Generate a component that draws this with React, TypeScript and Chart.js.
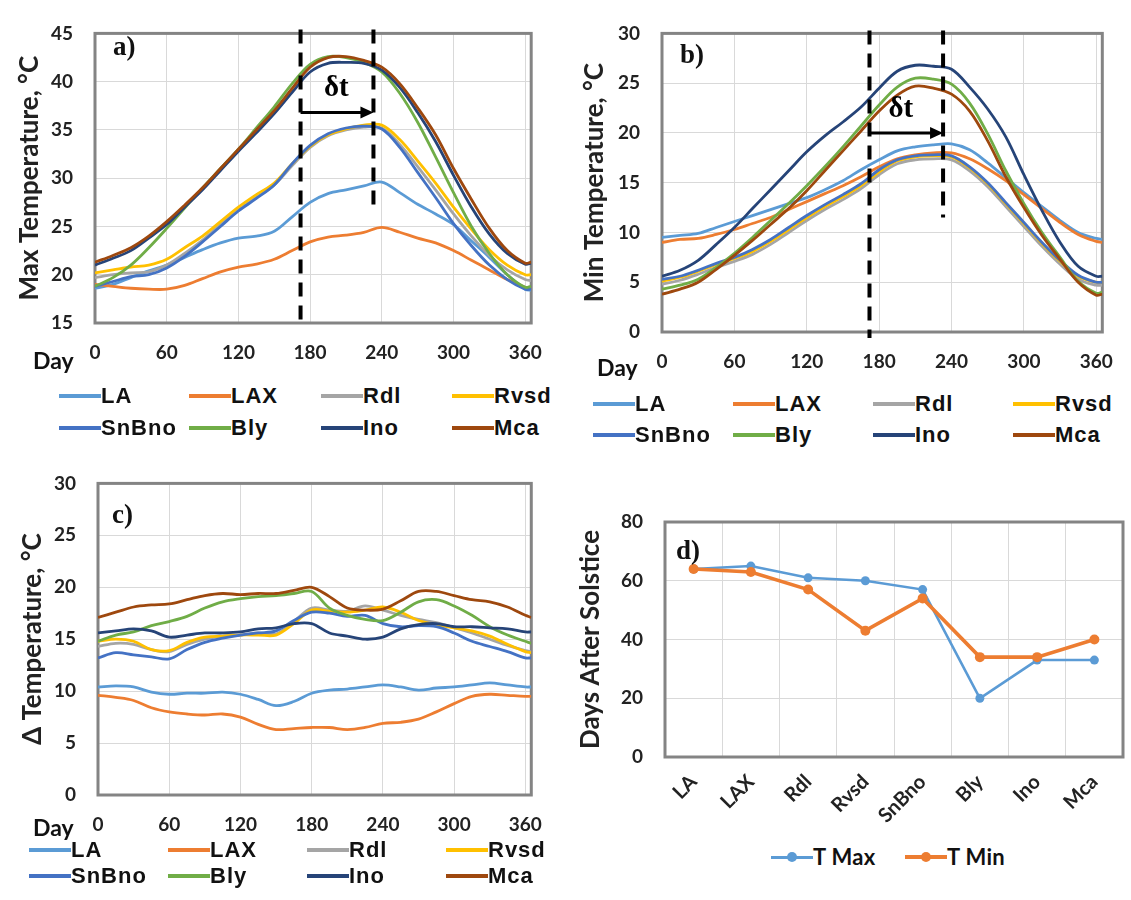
import React, { useEffect, useRef } from "react";
import { Chart, registerables } from "chart.js";
Chart.register(...registerables);

// ---------- data ----------
const DAYS = [0, 15, 30, 45, 60, 75, 90, 105, 120, 135, 150, 165, 180, 195, 210, 225, 240, 255, 270, 285, 300, 315, 330, 345, 360, 365];
const DAY_TICKS = [0, 60, 120, 180, 240, 300, 360];
const SITES = ["LA", "LAX", "Rdl", "Rvsd", "SnBno", "Bly", "Ino", "Mca"];
const SITE_COLORS = ["#5B9BD5", "#ED7D31", "#A5A5A5", "#FFC000", "#4472C4", "#70AD47", "#264478", "#9E480E"];

// a) Max temperature
const maxLA = [18.6, 19.0, 19.7, 20.4, 21.0, 21.8, 22.6, 23.3, 23.8, 24.0, 24.5, 26.0, 27.5, 28.4, 28.8, 29.2, 29.6, 28.5, 27.3, 26.3, 25.2, 23.5, 21.8, 20.0, 18.5, 18.4];
const maxLAX = [19.0, 18.8, 18.6, 18.5, 18.5, 18.9, 19.6, 20.3, 20.8, 21.1, 21.6, 22.5, 23.4, 23.9, 24.1, 24.4, 24.9, 24.4, 23.8, 23.3, 22.5, 21.5, 20.5, 19.5, 18.7, 18.6];
const maxRdl = [19.7, 20.0, 20.2, 20.3, 21.0, 22.2, 23.6, 25.2, 26.7, 28.0, 29.3, 31.3, 33.2, 34.4, 35.0, 35.3, 35.2, 33.5, 31.2, 28.8, 26.3, 24.0, 22.0, 20.5, 19.5, 19.4];
const maxRvsd = [20.2, 20.5, 20.8, 21.0, 21.6, 22.8, 24.0, 25.5, 27.0, 28.3, 29.5, 31.5, 33.3, 34.5, 35.1, 35.5, 35.5, 34.0, 31.8, 29.5, 27.0, 24.7, 22.6, 21.0, 20.0, 20.0];
const maxSnBno = [18.8, 19.3, 19.8, 20.0, 20.7, 21.9, 23.4, 25.0, 26.6, 27.9, 29.3, 31.5, 33.4, 34.6, 35.2, 35.4, 35.1, 33.2, 30.6, 28.0, 25.3, 23.0, 21.0, 19.5, 18.5, 18.5];
const maxBly = [18.8, 19.7, 21.0, 22.8, 24.8, 26.9, 29.0, 31.0, 33.0, 35.2, 37.4, 39.8, 41.8, 42.6, 42.5, 42.0, 41.0, 38.8, 35.8, 32.2, 28.5, 25.0, 22.2, 20.0, 18.7, 18.8];
const maxIno = [21.0, 21.7, 22.5, 23.8, 25.2, 27.0, 28.8, 30.8, 32.8, 34.7, 36.7, 38.9, 41.0, 41.9, 42.0, 41.9, 41.2, 39.4, 36.8, 33.8, 30.3, 27.0, 24.2, 22.2, 21.1, 21.2];
const maxMca = [21.3, 22.0, 22.8, 24.0, 25.5, 27.2, 29.0, 31.0, 33.0, 35.0, 37.0, 39.3, 41.5, 42.5, 42.6, 42.2, 41.5, 39.8, 37.3, 34.5, 31.0, 27.8, 24.8, 22.5, 21.2, 21.3];

// b) Min temperature
const minLA = [9.5, 9.7, 9.9, 10.5, 11.1, 11.7, 12.3, 12.9, 13.5, 14.3, 15.2, 16.3, 17.3, 18.2, 18.6, 18.8, 18.9, 18.3, 17.0, 15.5, 14.0, 12.6, 11.2, 10.0, 9.4, 9.3];
const minLAX = [9.0, 9.3, 9.4, 9.8, 10.3, 10.9, 11.5, 12.3, 13.1, 13.9, 14.7, 15.6, 16.6, 17.4, 17.8, 18.0, 18.0, 17.4, 16.4, 15.2, 13.8, 12.4, 11.0, 9.8, 9.1, 9.0];
const minRdl = [4.8, 5.2, 5.8, 6.5, 7.1, 7.8, 8.8, 10.0, 11.2, 12.3, 13.3, 14.4, 15.8, 16.9, 17.3, 17.4, 17.3, 16.2, 14.6, 12.6, 10.6, 8.6, 6.8, 5.3, 4.7, 4.7];
const minRvsd = [5.1, 5.5, 6.1, 6.8, 7.4, 8.1, 9.1, 10.3, 11.5, 12.6, 13.6, 14.7, 16.1, 17.2, 17.6, 17.7, 17.6, 16.5, 14.9, 12.9, 10.9, 8.9, 7.1, 5.6, 5.0, 5.0];
const minSnBno = [5.3, 5.6, 6.2, 6.9, 7.5, 8.3, 9.3, 10.5, 11.7, 12.8, 13.8, 14.9, 16.3, 17.3, 17.7, 17.8, 17.7, 16.6, 15.0, 13.0, 11.0, 9.0, 7.2, 5.7, 5.0, 5.0];
const minBly = [4.3, 4.7, 5.3, 6.5, 7.9, 9.5, 11.2, 12.9, 14.7, 16.6, 18.6, 20.7, 22.8, 24.6, 25.5, 25.4, 24.9, 23.0, 19.9, 16.2, 12.9, 10.0, 7.5, 5.1, 3.9, 4.0];
const minIno = [5.6, 6.2, 7.2, 8.8, 10.5, 12.4, 14.3, 16.2, 18.1, 19.7, 21.1, 22.6, 24.5, 26.2, 26.8, 26.7, 26.4, 24.6, 22.4, 19.6, 15.8, 12.2, 9.0, 6.6, 5.6, 5.6];
const minMca = [3.8, 4.3, 5.0, 6.3, 7.7, 9.2, 10.8, 12.4, 14.2, 16.2, 18.2, 20.2, 22.2, 23.8, 24.7, 24.5, 23.9, 22.2, 19.2, 15.6, 12.5, 9.7, 7.3, 5.0, 3.7, 3.8];

// c) Delta temperature
const dLA = [10.4, 10.5, 10.4, 9.9, 9.7, 9.8, 9.8, 9.9, 9.7, 9.2, 8.6, 9.0, 9.8, 10.1, 10.2, 10.4, 10.6, 10.4, 10.1, 10.3, 10.4, 10.6, 10.8, 10.6, 10.4, 10.4];
const dLAX = [9.6, 9.4, 9.1, 8.4, 8.0, 7.8, 7.7, 7.8, 7.5, 6.8, 6.3, 6.4, 6.5, 6.5, 6.3, 6.5, 6.9, 7.0, 7.3, 8.0, 8.8, 9.5, 9.7, 9.6, 9.5, 9.5];
const dRdl = [14.3, 14.6, 14.5, 14.0, 13.8, 14.5, 15.0, 15.3, 15.4, 15.6, 15.5, 16.7, 18.0, 17.8, 17.7, 18.2, 17.8, 17.3, 16.9, 16.6, 16.1, 15.6, 15.0, 14.4, 13.9, 13.8];
const dRvsd = [14.8, 15.0, 14.8, 14.0, 13.9, 14.7, 15.2, 15.3, 15.4, 15.4, 15.4, 16.5, 17.8, 17.7, 17.6, 17.8, 18.1, 17.6, 16.8, 16.4, 16.1, 15.8, 15.3, 14.5, 13.8, 13.7];
const dSnBno = [13.2, 13.7, 13.5, 13.3, 13.1, 14.0, 14.7, 15.1, 15.4, 15.6, 15.8, 16.8, 17.6, 17.5, 17.2, 17.3, 16.5, 16.2, 16.3, 16.2, 15.6, 14.8, 14.3, 13.8, 13.2, 13.2];
const dBly = [14.8, 15.4, 15.7, 16.3, 16.7, 17.2, 18.0, 18.6, 18.9, 19.1, 19.2, 19.4, 19.6, 18.0, 17.3, 16.9, 16.8, 17.6, 18.6, 18.8, 18.2, 17.3, 16.2, 15.4, 14.8, 14.6];
const dIno = [15.6, 15.8, 16.0, 15.8, 15.2, 15.4, 15.6, 15.6, 15.7, 16.0, 16.1, 16.5, 16.5, 15.6, 15.3, 15.0, 15.2, 16.0, 16.4, 16.5, 16.2, 16.2, 16.1, 16.0, 15.7, 15.7];
const dMca = [17.1, 17.6, 18.1, 18.3, 18.4, 18.8, 19.2, 19.4, 19.3, 19.4, 19.4, 19.7, 20.0, 19.1, 18.0, 17.8, 17.9, 18.7, 19.6, 19.6, 19.2, 18.8, 18.6, 18.1, 17.3, 17.1];

// d) Days after solstice
const D_CATEGORIES = ["LA", "LAX", "Rdl", "Rvsd", "SnBno", "Bly", "Ino", "Mca"];
const D_TMAX = [64, 65, 61, 60, 57, 20, 33, 33];
const D_TMIN = [64, 63, 57, 43, 54, 34, 34, 40];
const D_SERIES = ["T Max", "T Min"];
const D_COLORS = ["#5B9BD5", "#ED7D31"];

// ---------- styling ----------
const TEXT = "#222222";
const GRID = "#d9d9d9";
const FRAME = "#848484";
const TICK_FONT = { family: "Lato", weight: "bold", size: 19 };
const TITLE_SIZE = 26;
const TITLE_FONT = { family: "Lato", weight: "bold", size: TITLE_SIZE };

const framePlugin = {
  id: "frame",
  beforeDatasetsDraw(chart: any) {
    const { ctx, chartArea } = chart;
    ctx.save();
    ctx.strokeStyle = FRAME;
    ctx.lineWidth = 3;
    ctx.strokeRect(chartArea.left, chartArea.top, chartArea.right - chartArea.left, chartArea.bottom - chartArea.top);
    ctx.restore();
  },
};

type Annot = {
  lines: { day: number; from: number; to: number }[];
  arrow: { from: number; to: number; y: number };
  label: { day: number; y: number };
};

function makeAnnot(a: Annot) {
  return {
    id: "annot",
    afterDatasetsDraw(chart: any) {
      const { ctx } = chart;
      const xs = chart.scales.x;
      const ys = chart.scales.y;
      ctx.save();
      ctx.strokeStyle = "#000";
      ctx.fillStyle = "#000";
      ctx.lineWidth = 4;
      ctx.setLineDash([14, 9]);
      for (const l of a.lines) {
        const x = xs.getPixelForValue(l.day);
        ctx.beginPath();
        ctx.moveTo(x, ys.getPixelForValue(l.from));
        ctx.lineTo(x, ys.getPixelForValue(l.to));
        ctx.stroke();
      }
      ctx.setLineDash([]);
      const x1 = xs.getPixelForValue(a.arrow.from);
      const x2 = xs.getPixelForValue(a.arrow.to);
      const y = ys.getPixelForValue(a.arrow.y);
      ctx.lineWidth = 3;
      ctx.beginPath();
      ctx.moveTo(x1, y);
      ctx.lineTo(x2 - 6, y);
      ctx.stroke();
      ctx.beginPath();
      ctx.moveTo(x2, y);
      ctx.lineTo(x2 - 13, y - 6);
      ctx.lineTo(x2 - 13, y + 6);
      ctx.closePath();
      ctx.fill();
      ctx.font = 'bold 29px "Liberation Serif", "Times New Roman", serif';
      ctx.textAlign = "center";
      ctx.textBaseline = "middle";
      ctx.fillText("\u03b4t", xs.getPixelForValue(a.label.day), ys.getPixelForValue(a.label.y));
      ctx.restore();
    },
  };
}

type Geo = { left: number; top: number; width: number; height: number; aL: number; aT: number; aR: number; aB: number; titleX: number };

function dayConfig(series: number[][], yMin: number, yMax: number, yTitle: string, g: Geo, annot?: Annot) {
  const plugins: any[] = [framePlugin];
  if (annot) plugins.push(makeAnnot(annot));
  return {
    type: "line",
    data: {
      datasets: SITES.map((name, i) => ({
        label: name,
        data: DAYS.map((d, k) => ({ x: d, y: series[i][k] })),
        borderColor: SITE_COLORS[i],
        backgroundColor: SITE_COLORS[i],
        borderWidth: 2.8,
        pointRadius: 0,
        tension: 0.35,
        fill: false,
        order: 8 - i,
      })),
    },
    options: {
      responsive: false,
      animation: false,
      devicePixelRatio: 1,
      layout: { padding: { left: 0, top: g.aT, right: g.width - g.aR, bottom: 0 } },
      plugins: { legend: { display: false }, tooltip: { enabled: false } },
      scales: {
        x: {
          type: "linear",
          min: 0,
          max: 365,
          afterBuildTicks: (s: any) => {
            s.ticks = DAY_TICKS.map((v) => ({ value: v }));
          },
          afterFit: (s: any) => {
            s.height = g.height - g.aB;
          },
          ticks: { font: TICK_FONT, color: TEXT, padding: 18, maxRotation: 0, autoSkip: false },
          grid: { color: GRID, drawTicks: false, lineWidth: 1 },
          border: { display: false },
        },
        y: {
          min: yMin,
          max: yMax,
          afterFit: (s: any) => {
            s.width = g.aL;
          },
          ticks: { stepSize: 5, font: TICK_FONT, color: TEXT, padding: 22 },
          grid: { color: GRID, drawTicks: false, lineWidth: 1 },
          border: { display: false },
          title: { display: true, text: yTitle, font: TITLE_FONT, color: TEXT, padding: { top: g.titleX - TITLE_SIZE * 0.6, bottom: 0 } },
        },
      },
    },
    plugins,
  };
}

function solsticeConfig(g: Geo) {
  const vals = [D_TMAX, D_TMIN];
  return {
    type: "line",
    data: {
      labels: D_CATEGORIES,
      datasets: D_SERIES.map((name, i) => ({
        label: name,
        data: vals[i],
        borderColor: D_COLORS[i],
        backgroundColor: D_COLORS[i],
        borderWidth: i === 0 ? 2.6 : 3.6,
        pointRadius: i === 0 ? 4.5 : 5,
        pointBorderWidth: 0,
        tension: 0,
        fill: false,
        order: 2 - i,
      })),
    },
    options: {
      responsive: false,
      animation: false,
      devicePixelRatio: 1,
      layout: { padding: { left: 0, top: g.aT, right: g.width - g.aR, bottom: 0 } },
      plugins: { legend: { display: false }, tooltip: { enabled: false } },
      scales: {
        x: {
          type: "category",
          offset: true,
          afterFit: (s: any) => {
            s.height = g.height - g.aB;
          },
          ticks: { font: { family: "Lato", weight: "bold", size: 20 }, color: TEXT, padding: 13, minRotation: 45, maxRotation: 45, autoSkip: false },
          grid: { color: GRID, drawTicks: false, offset: true },
          border: { display: false },
        },
        y: {
          min: 0,
          max: 80,
          afterFit: (s: any) => {
            s.width = g.aL;
          },
          ticks: { stepSize: 20, font: TICK_FONT, color: TEXT, padding: 22 },
          grid: { color: GRID, drawTicks: false },
          border: { display: false },
          title: { display: true, text: "Days After Solstice", font: TITLE_FONT, color: TEXT, padding: { top: g.titleX - TITLE_SIZE * 0.6, bottom: 0 } },
        },
      },
    },
    plugins: [framePlugin],
  };
}

function ChartBox({ geo, make }: { geo: Geo; make: () => any }) {
  const ref = useRef<HTMLCanvasElement | null>(null);
  useEffect(() => {
    const chart = new Chart(ref.current as HTMLCanvasElement, make());
    return () => chart.destroy();
  }, []);
  return (
    <canvas
      ref={ref}
      width={geo.width}
      height={geo.height}
      style={{ position: "absolute", left: geo.left, top: geo.top, width: geo.width, height: geo.height }}
    />
  );
}

function Legend({ cols, rows, names, colors }: { cols: number[]; rows: number[]; names: string[]; colors: string[] }) {
  return (
    <>
      {names.map((n, i) => {
        const x = cols[i % 4];
        const y = rows[Math.floor(i / 4)];
        return (
          <div key={n} style={{ position: "absolute", left: x, top: y - 13, height: 26, display: "flex", alignItems: "center" }}>
            <div style={{ width: 42, height: 4, background: colors[i] }} />
            <span style={{ font: 'bold 22px "Liberation Sans", Arial, sans-serif', letterSpacing: "1px", color: "#111", lineHeight: "26px" }}>{n}</span>
          </div>
        );
      })}
    </>
  );
}

function Txt({ x, y, text, font }: { x: number; y: number; text: string; font: string }) {
  return (
    <div style={{ position: "absolute", left: x, top: y - 16, height: 32, lineHeight: "32px", font, color: "#111", whiteSpace: "nowrap" }}>
      {text}
    </div>
  );
}

const GEO_A: Geo = { left: 0, top: 0, width: 560, height: 380, aL: 95, aT: 20, aR: 542, aB: 323, titleX: 30 };
const GEO_B: Geo = { left: 560, top: 0, width: 571, height: 380, aL: 102, aT: 25, aR: 557, aB: 332, titleX: 35 };
const GEO_C: Geo = { left: 0, top: 450, width: 560, height: 400, aL: 98, aT: 27, aR: 551, aB: 345, titleX: 33 };
const GEO_D: Geo = { left: 560, top: 450, width: 571, height: 390, aL: 105, aT: 72, aR: 563, aB: 307, titleX: 31 };

const SERIF = 'bold 27px "Liberation Serif", "Times New Roman", serif';
const DAYFONT = 'bold 23px Lato, sans-serif';

export default function App() {
  return (
    <div style={{ position: "absolute", left: 0, top: 0, width: 1131, height: 900, background: "#fff", overflow: "hidden" }}>
      <ChartBox
        geo={GEO_A}
        make={() =>
          dayConfig([maxLA, maxLAX, maxRdl, maxRvsd, maxSnBno, maxBly, maxIno, maxMca], 15, 45, "Max Temperature, \u00b0C", GEO_A, {
            lines: [
              { day: 172, from: 45.4, to: 15 },
              { day: 233, from: 45.4, to: 26.4 },
            ],
            arrow: { from: 172, to: 233, y: 36.8 },
            label: { day: 202, y: 39.3 },
          })
        }
      />
      <ChartBox
        geo={GEO_B}
        make={() =>
          dayConfig([minLA, minLAX, minRdl, minRvsd, minSnBno, minBly, minIno, minMca], 0, 30, "Min Temperature, \u00b0C", GEO_B, {
            lines: [
              { day: 172, from: 30.3, to: -0.6 },
              { day: 233, from: 30.3, to: 11.5 },
            ],
            arrow: { from: 172, to: 233, y: 20.0 },
            label: { day: 198, y: 22.4 },
          })
        }
      />
      <ChartBox geo={GEO_C} make={() => dayConfig([dLA, dLAX, dRdl, dRvsd, dSnBno, dBly, dIno, dMca], 0, 30, "\u0394 Temperature, \u00b0C", GEO_C)} />
      <ChartBox geo={GEO_D} make={() => solsticeConfig(GEO_D)} />

      <Txt x={113} y={47} text="a)" font={SERIF} />
      <Txt x={680} y={55} text="b)" font={SERIF} />
      <Txt x={112} y={515} text="c)" font={SERIF} />
      <Txt x={676} y={551} text="d)" font={SERIF} />

      <Txt x={33} y={362} text="Day" font={DAYFONT} />
      <Txt x={597} y={369} text="Day" font={DAYFONT} />
      <Txt x={33} y={829} text="Day" font={DAYFONT} />

      <Legend cols={[59, 189, 321, 452]} rows={[396, 428]} names={SITES} colors={SITE_COLORS} />
      <Legend cols={[593, 733, 873, 1013]} rows={[404, 435]} names={SITES} colors={SITE_COLORS} />
      <Legend cols={[29, 168, 307, 446]} rows={[850, 876]} names={SITES} colors={SITE_COLORS} />

      {D_SERIES.map((n, i) => {
        const x = i === 0 ? 771 : 905;
        return (
          <div key={n} style={{ position: "absolute", left: x, top: 844, height: 26, display: "flex", alignItems: "center" }}>
            <div style={{ position: "relative", width: 42, height: i === 0 ? 3 : 4, background: D_COLORS[i] }}>
              <div style={{ position: "absolute", left: 16, top: i === 0 ? -3.5 : -3, width: 10, height: 10, borderRadius: 5, background: D_COLORS[i] }} />
            </div>
            <span style={{ font: "bold 22px Lato, sans-serif", color: "#111", lineHeight: "26px", letterSpacing: "0.3px" }}>{n}</span>
          </div>
        );
      })}
    </div>
  );
}
